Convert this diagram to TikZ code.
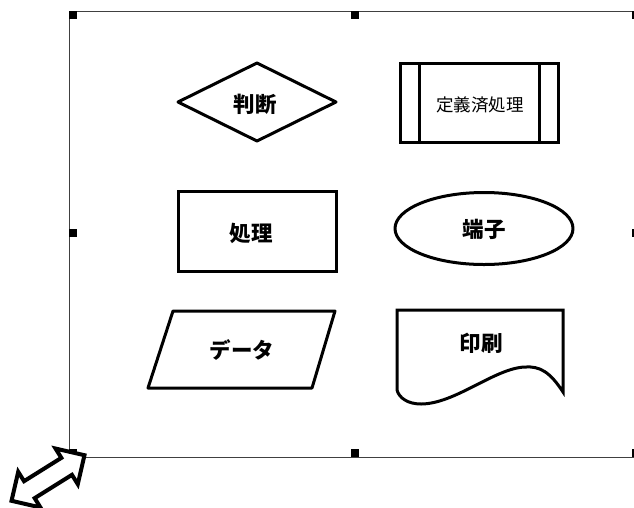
\documentclass[tikz,border=0pt]{standalone}
\usepackage{fontspec}
\newfontfamily\jp{Noto Sans CJK JP}
\usetikzlibrary{shapes.geometric}
\begin{document}
\begin{tikzpicture}[x=1pt,y=-1pt,
  shapeline/.style={line width=3pt, line join=round, draw=black, fill=white},
  lbl/.style={font=\jp\bfseries\fontsize{21.5}{21.5}\selectfont, inner sep=0pt},
  lblthin/.style={font=\jp\fontsize{17.5}{17.5}\selectfont, inner sep=0pt},
  handle/.style={fill=black, draw=none},
  framebox/.style={line width=1pt, draw=black!75}]
\useasboundingbox (0,0) rectangle (634,507);
\clip (0,0) rectangle (634,507);
% selection frame
\draw[framebox] (645,11) -- (69,11) -- (69,457) -- (645,457);
\fill[handle] (69,11) rectangle (77,19);
\fill[handle] (351,11) rectangle (359,19);
\fill[handle] (632,11) rectangle (640,19);
\fill[handle] (69,229) rectangle (77,237);
\fill[handle] (632,229) rectangle (640,237);
\fill[handle] (69,449) rectangle (77,457);
\fill[handle] (351,449) rectangle (359,457);
\fill[handle] (632,449) rectangle (640,457);
% diamond
\coordinate (dL) at (178,102);
\coordinate (dT) at (257,63);
\coordinate (dR) at (336,102);
\coordinate (dB) at (257,141);
\draw[shapeline] (dL) -- (dT) -- (dR) -- (dB) -- cycle;
\node[lbl] (judge) at (255,104) {判断};
% predefined process
\draw[shapeline, line join=miter] (400,63) rectangle (558,142);
\draw[line width=3pt] (419,63) -- (419,142);
\draw[line width=3pt] (539,63) -- (539,142);
\node[lblthin] (predef) at (480,105) {定義済処理};
% process
\draw[shapeline, line join=miter] (178,191) rectangle (336,271);
\node[lbl] (proc) at (251,233) {処理};
% terminal
\draw[shapeline] (484,228.5) ellipse [x radius=89, y radius=36];
\node[lbl] (term) at (484,229) {端子};
% data
\draw[shapeline] (173,311) -- (335,311) -- (312,388) -- (148,388) -- cycle;
\node[lbl] (data) at (242,350) {データ};
% document
\draw[shapeline, line join=miter] (563,392) .. controls (550,372) and (540,366) .. (525,367)
   .. controls (495,368) and (455,404) .. (421,404)
   .. controls (408,404) and (399,398) .. (397,390)
   -- (397,310) -- (563,310) -- cycle;
\node[lbl] (print) at (481,343) {印刷};
% double arrow (resize handle)
\begin{scope}[shift={(48,478)}, rotate=32]
\draw[line width=4pt, draw=black, fill=white, line join=miter]
  (43,0) -- (22,21) -- (22,10) -- (-22,10) -- (-22,21) -- (-43,0)
  -- (-22,-21) -- (-22,-10) -- (22,-10) -- (22,-21) -- cycle;
\end{scope}
\end{tikzpicture}
\end{document}
